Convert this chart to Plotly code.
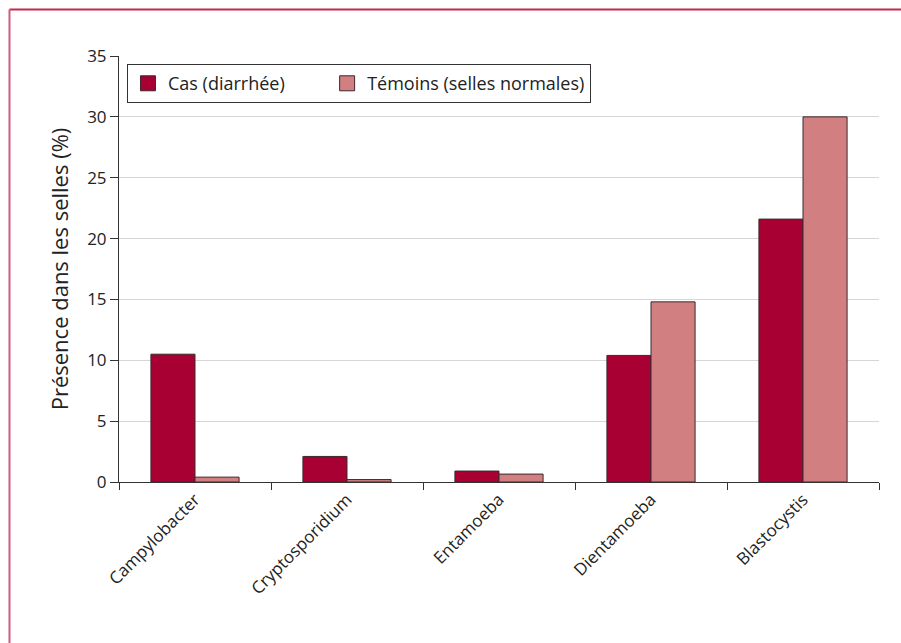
import plotly.graph_objects as go

categories = ["Campylobacter", "Cryptosporidium", "Entamoeba", "Dientamoeba", "Blastocystis"]
cas = [10.5, 2.1, 0.9, 10.4, 21.6]
temoins = [0.4, 0.2, 0.65, 14.8, 30.0]
series_names = ["Cas (diarrhée)", "Témoins (selles normales)"]
series_colors = ["#A80033", "#D17F80"]
y_ticks = [0, 5, 10, 15, 20, 25, 30, 35]

FONT = "Open Sans, Liberation Sans, sans-serif"
EDGE = "#3a2a2e"

fig = go.Figure()
for vals, name, col in zip([cas, temoins], series_names, series_colors):
    fig.add_trace(go.Bar(x=categories, y=vals, name=name, showlegend=False,
                         marker=dict(color=col, line=dict(color=EDGE, width=1))))
# legend entries with larger square swatches
legend_labels = [series_names[0] + "\u00a0" * 8, series_names[1]]
for name, col in zip(legend_labels, series_colors):
    fig.add_trace(go.Scatter(x=[None], y=[None], mode="markers", name=name,
                             marker=dict(symbol="square", size=15, color=col,
                                         line=dict(color=EDGE, width=1))))

fig.update_layout(
    width=901, height=643,
    margin=dict(l=119, r=22, t=56, b=161),
    paper_bgcolor="white", plot_bgcolor="white",
    barmode="group", bargap=0.42, bargroupgap=0,
    font=dict(family=FONT, size=17, color="#222"),
    showlegend=True,
    legend=dict(orientation="h", x=0.0105, y=0.981, xanchor="left", yanchor="top",
                bordercolor="#333", borderwidth=1, bgcolor="white",
                font=dict(size=18, family=FONT),
                traceorder="normal", itemwidth=30, itemsizing="trace"),
    xaxis=dict(showline=True, linecolor="#333", linewidth=1,
               ticks="outside", ticklen=7, tickcolor="#333", tickson="boundaries",
               tickangle=-45, tickfont=dict(size=17), showgrid=False),
    yaxis=dict(range=[0, 35], tickvals=y_ticks, showline=True, linecolor="#333", linewidth=1,
               ticks="outside", ticklen=8, tickcolor="#333",
               showgrid=True, gridcolor="#d6d6d6", gridwidth=1,
               zeroline=False, tickfont=dict(size=17),
               title=dict(text="Présence dans les selles (%)", font=dict(size=22), standoff=12)),
    shapes=[
        dict(type="line", xref="paper", yref="paper", x0=-0.1441, x1=1.05, y0=1.1092, y1=1.1092,
             line=dict(color="#C8264F", width=2)),
        dict(type="line", xref="paper", yref="paper", x0=-0.1441, x1=-0.1441, y0=1.1092, y1=-0.45,
             line=dict(color="#D4597F", width=2)),
    ],
)

fig.write_html("out.html")
